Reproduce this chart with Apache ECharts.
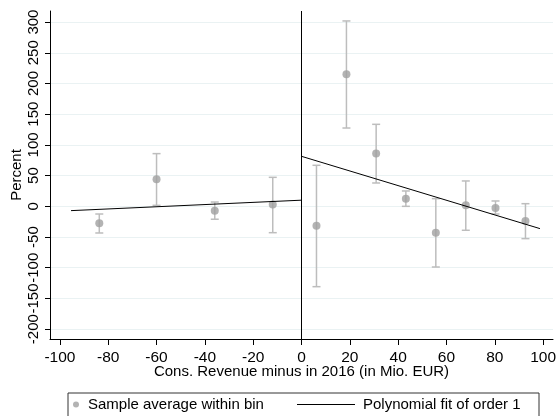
<!DOCTYPE html>
<html>
<head>
<meta charset="utf-8">
<script src="https://cdn.jsdelivr.net/npm/echarts@6/dist/echarts.min.js"></script>
<style>html,body{margin:0;padding:0;background:#fff}#c{width:557px;height:416px}</style>
</head>
<body>
<div id="c"></div>
<script>
// Bin averages (x = bin midpoint, y = mean, lo/hi = CI)
var binX  = [-83.7, -60.0, -35.9, -11.9, 6.2, 18.6, 30.9, 43.2, 55.6, 68.0, 80.3, 92.7];
var binY  = [-27.7, 44.0, -7.0, 2.8, -31.5, 215.0, 85.8, 12.5, -42.9, 1.6, -2.7, -23.9];
var binLo = [-43.4, 1.6, -21.0, -42.9, -130.8, 127.5, 38.0, 0.0, -98.8, -39.0, -12.5, -52.6];
var binHi = [-12.5, 85.8, 7.0, 47.2, 66.8, 301.8, 133.5, 25.0, 12.5, 41.3, 8.7, 4.3];
// Linear fits on each side of the cutoff
var fitLeft  = [[-95.4, -7.0], [0, 10.0]];
var fitRight = [[0, 81.4], [98.7, -36.3]];
var xTicks = [-100, -80, -60, -40, -20, 0, 20, 40, 60, 80, 100];
var yTicks = [-200, -150, -100, -50, 0, 50, 100, 150, 200, 250, 300];
var cutoff = 0;

var FONT = 'Liberation Sans, Arial, sans-serif';
var chart = echarts.init(document.getElementById('c'), null, {renderer: 'canvas'});

var pts = binX.map(function (x, i) { return [x, binY[i]]; });
var bars = binX.map(function (x, i) { return [x, binLo[i], binHi[i]]; });

var option = {
  animation: false,
  backgroundColor: '#fff',
  grid: {left: 50, right: 4, top: 11, bottom: 77, containLabel: false, outerBoundsMode: 'none'},
  xAxis: {
    type: 'value', min: -104.1, max: 104.1,
    name: 'Cons. Revenue minus in 2016 (in Mio. EUR)',
    nameLocation: 'middle', nameGap: 25, nameMoveOverlap: false,
    nameTextStyle: {fontFamily: FONT, fontSize: 15, color: '#000'},
    axisLine: {show: true, onZero: false, lineStyle: {color: '#000', width: 1}},
    axisTick: {show: true, length: 6, customValues: xTicks, lineStyle: {color: '#000'}},
    axisLabel: {customValues: xTicks, margin: 11, fontFamily: FONT, fontSize: 15.5, color: '#000',
                hideOverlap: false, showMinLabel: true, showMaxLabel: true},
    splitLine: {show: false}
  },
  yAxis: {
    type: 'value', min: -216, max: 318,
    name: 'Percent', nameLocation: 'middle', nameGap: 26, nameMoveOverlap: false,
    nameTextStyle: {fontFamily: FONT, fontSize: 15, color: '#000'},
    axisLine: {show: true, onZero: false, lineStyle: {color: '#000', width: 1}},
    axisTick: {show: true, length: 5, customValues: yTicks, lineStyle: {color: '#000'}},
    axisLabel: {customValues: yTicks, rotate: 90, margin: 9, fontFamily: FONT, fontSize: 15, color: '#000',
                hideOverlap: false, showMinLabel: true, showMaxLabel: true, interval: 0},
    splitLine: {show: false}
  },
  legend: [
    {left: 73, top: 397, itemWidth: 6, itemHeight: 6, itemGap: 0, padding: 0,
     data: [{name: 'Sample average within bin', icon: 'circle'}],
     textStyle: {fontFamily: FONT, fontSize: 15, color: '#000', padding: [0, 0, 0, 4]}},
    {left: 297, top: 397, itemWidth: 58, itemHeight: 1, padding: 0,
     data: [{name: 'Polynomial fit of order 1', icon: 'rect', itemStyle: {color: '#000'}}],
     textStyle: {fontFamily: FONT, fontSize: 15, color: '#000', padding: [0, 0, 0, 3]}}
  ],
  graphic: [{
    type: 'rect', shape: {x: 68, y: 393, width: 471, height: 30},
    style: {fill: 'none', stroke: '#333', lineWidth: 1}, silent: true, z: 10
  }],
  series: [
    {
      type: 'line', name: 'grid', data: [], silent: true, z: 0,
      markLine: {
        silent: true, symbol: 'none', label: {show: false}, z: 0,
        lineStyle: {color: '#eaf2f3', width: 1, type: 'solid'},
        data: yTicks.map(function (v) { return {yAxis: v}; })
      }
    },
    {
      type: 'custom', name: 'ci', silent: true, z: 2,
      data: bars,
      renderItem: function (params, api) {
        var x = api.value(0), lo = api.value(1), hi = api.value(2);
        var p1 = api.coord([x, lo]), p2 = api.coord([x, hi]);
        var w = 4;
        var st = {stroke: '#bdbdbd', lineWidth: 1.5};
        return {type: 'group', children: [
          {type: 'line', shape: {x1: p1[0], y1: p1[1], x2: p2[0], y2: p2[1]}, style: st},
          {type: 'line', shape: {x1: p1[0]-w, y1: p1[1], x2: p1[0]+w, y2: p1[1]}, style: st},
          {type: 'line', shape: {x1: p2[0]-w, y1: p2[1], x2: p2[0]+w, y2: p2[1]}, style: st}
        ]};
      }
    },
    {
      type: 'scatter', name: 'Sample average within bin', data: pts,
      symbol: 'circle', symbolSize: 8, z: 3,
      itemStyle: {color: '#a0a0a0'}
    },
    {
      type: 'line', name: 'Polynomial fit of order 1', data: fitLeft,
      showSymbol: false, symbol: 'none', z: 4,
      lineStyle: {color: '#000', width: 1}, itemStyle: {color: '#000'},
      markLine: {
        silent: true, symbol: 'none', label: {show: false}, z: 4,
        lineStyle: {color: '#000', width: 1, type: 'solid'},
        data: [{xAxis: cutoff}]
      }
    },
    {
      type: 'line', name: 'Polynomial fit of order 1', data: fitRight,
      showSymbol: false, symbol: 'none', z: 4,
      lineStyle: {color: '#000', width: 1}, itemStyle: {color: '#000'}
    }
  ]
};
chart.setOption(option);
</script>
</body>
</html>
